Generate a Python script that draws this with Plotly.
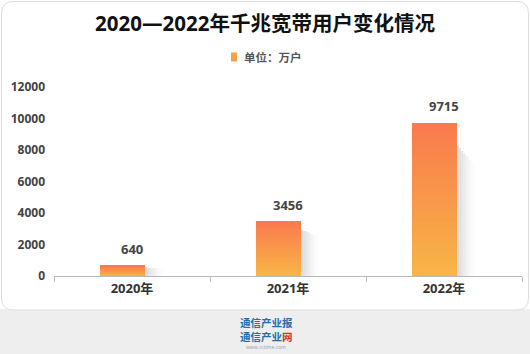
import plotly.graph_objects as go

# ---- data ----
categories = ["2020年", "2021年", "2022年"]
values = [640, 3456, 9715]
value_labels = ["640", "3456", "9715"]
y_ticks = [0, 2000, 4000, 6000, 8000, 10000, 12000]
y_tick_labels = ["0", "2000", "4000", "6000", "8000", "10000", "12000"]
title_text = "2020—2022年千兆宽带用户变化情况"
unit_text = "单位：万户"

# ---- layout constants ----
W, H = 530, 354
L, R, T, B = 54, 8, 87, 78
PW, PH = W - L - R, H - T - B

def px2x(p):
    return (p - L) / PW

def py2y(p):
    return (H - B - p) / PH

TOP_C = (249, 122, 78)
BOT_C = (248, 182, 70)
N = 40

def mix(t):
    return "rgb(%d,%d,%d)" % tuple(round(TOP_C[k] * t + BOT_C[k] * (1 - t)) for k in range(3))

fig = go.Figure()

cat_px = PW / len(categories)
bar_w = 45 / cat_px
bar_off = -32 / cat_px

# shadows (behind bars)
n_sh = 9
for i in range(n_sh):
    a = 0.24 * (1 - i / n_sh) ** 1.4
    fig.add_trace(go.Bar(
        x=categories,
        y=[v * (0.85 - 0.015 * i) for v in values],
        base=[0] * len(values),
        width=2.2 / cat_px,
        offset=bar_off + bar_w + (i * 2.0 - 0.5) / cat_px,
        marker=dict(color="rgba(110,110,110,%.3f)" % a, line=dict(width=0)),
        showlegend=False, hoverinfo="skip",
    ))

# gradient bars as stacked segments
for i in range(N):
    t = (i + 0.5) / N
    fig.add_trace(go.Bar(
        x=categories,
        y=[v / N * 1.002 for v in values],
        base=[v * i / N for v in values],
        width=bar_w,
        offset=bar_off,
        marker=dict(color=mix(t), line=dict(width=0)),
        showlegend=False, hoverinfo="skip",
    ))

for c, v, s in zip(categories, values, value_labels):
    fig.add_annotation(x=c, y=v, text="<b>" + s + "</b>", showarrow=False, yshift=17,
                       font=dict(family="Open Sans, Noto Sans CJK SC", size=13, color="#444444"))

shapes = []
# bottom gray band
shapes.append(dict(type="rect", xref="paper", yref="paper", layer="below",
                   x0=px2x(-5), x1=px2x(W + 5), y0=py2y(309), y1=py2y(H + 5),
                   fillcolor="#eeeeee", line=dict(width=0)))
# card with rounded corners
rx, ry = 12, 12
x0p, x1p, y0p, y1p = 1.5, 528.5, 1.5, 310
path = "M {} {} L {} {} Q {} {} {} {} L {} {} Q {} {} {} {} L {} {} Q {} {} {} {} L {} {} Q {} {} {} {} Z".format(
    px2x(x0p + rx), py2y(y0p),
    px2x(x1p - rx), py2y(y0p),
    px2x(x1p), py2y(y0p), px2x(x1p), py2y(y0p + ry),
    px2x(x1p), py2y(y1p - ry),
    px2x(x1p), py2y(y1p), px2x(x1p - rx), py2y(y1p),
    px2x(x0p + rx), py2y(y1p),
    px2x(x0p), py2y(y1p), px2x(x0p), py2y(y1p - ry),
    px2x(x0p), py2y(y0p + ry),
    px2x(x0p), py2y(y0p), px2x(x0p + rx), py2y(y0p),
)
shapes.append(dict(type="path", xref="paper", yref="paper", layer="below", path=path,
                   fillcolor="#ffffff", line=dict(color="#dddddd", width=1)))
# legend marker
shapes.append(dict(type="rect", xref="paper", yref="paper",
                   x0=px2x(231), x1=px2x(237), y0=py2y(61.5), y1=py2y(52.5),
                   fillcolor="rgb(248,160,75)", line=dict(width=0)))

fig.add_annotation(xref="paper", yref="paper", x=px2x(242), y=py2y(57), xanchor="left", yanchor="middle",
                   text="<b>" + unit_text + "</b>", showarrow=False,
                   font=dict(family="Noto Sans CJK SC", size=11.5, color="#555555"))

# logo text
fig.add_annotation(xref="paper", yref="paper", x=px2x(266), y=py2y(322), xanchor="center", yanchor="middle",
                   text="<b>通信产业报</b>", showarrow=False,
                   font=dict(family="Noto Sans CJK SC", size=10.5, color="#1f6fb2"))
fig.add_annotation(xref="paper", yref="paper", x=px2x(266), y=py2y(336), xanchor="center", yanchor="middle",
                   text="<b>通信产业<span style='color:#d9322b'>网</span></b>", showarrow=False,
                   font=dict(family="Noto Sans CJK SC", size=10.5, color="#1f6fb2"))
fig.add_annotation(xref="paper", yref="paper", x=px2x(266), y=py2y(347), xanchor="center", yanchor="middle",
                   text="www.cctime.com", showarrow=False,
                   font=dict(family="Open Sans", size=5, color="#8aa0b8"))

fig.update_layout(
    width=W, height=H,
    margin=dict(l=L, r=R, t=T, b=B, autoexpand=False),
    paper_bgcolor="#ffffff", plot_bgcolor="rgba(0,0,0,0)",
    barmode="overlay", bargap=0,
    showlegend=False,
    title=dict(text="<b>" + title_text + "</b>", x=0.5, xref="container", y=1 - 24 / H, yref="container",
               xanchor="center", yanchor="middle",
               font=dict(family="Open Sans, Noto Sans CJK SC", size=20.5, color="#111111")),
    shapes=shapes,
    xaxis=dict(type="category", showgrid=False, showline=True, linecolor="#bbbbbb", linewidth=1,
               ticks="outside", tickson="boundaries", ticklen=5, tickcolor="#bbbbbb",
               tickfont=dict(family="Open Sans, Noto Sans CJK SC", size=13, color="#333333", weight="bold"),
               fixedrange=True),
    yaxis=dict(range=[0, 12000], tickvals=y_ticks, ticktext=y_tick_labels, showgrid=False, zeroline=False,
               showline=False, ticks="", ticklabelstandoff=8,
               tickfont=dict(family="Open Sans", size=12, color="#444444", weight="bold"),
               fixedrange=True),
)

fig.write_html("out.html")
